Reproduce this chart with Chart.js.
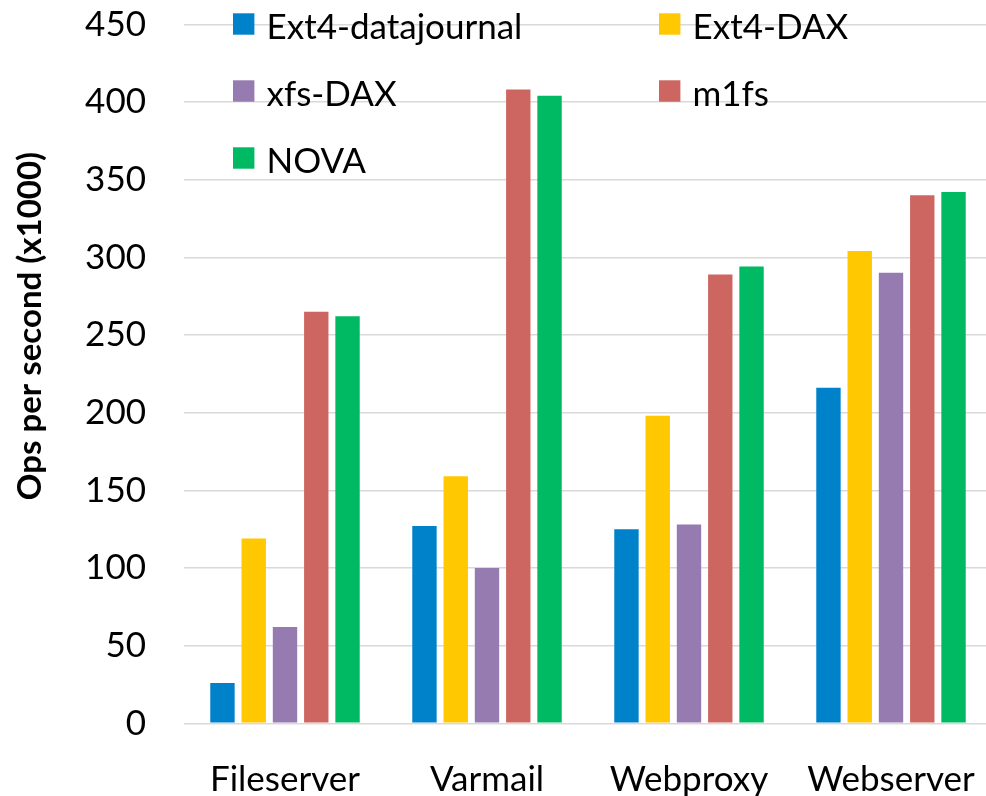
<!DOCTYPE html>
<html>
<head>
<meta charset="utf-8">
<script src="https://cdn.jsdelivr.net/npm/chart.js@4/dist/chart.umd.min.js"></script>
<style>
  html, body { margin: 0; padding: 0; background: #fff; overflow: hidden; }
  canvas { display: block; }
</style>
</head>
<body>
<canvas id="myChart" width="992" height="796"></canvas>
<script>
// data
const categories = ["Fileserver", "Varmail", "Webproxy", "Webserver"];
const seriesNames = ["Ext4-datajournal", "Ext4-DAX", "xfs-DAX", "m1fs", "NOVA"];
const ext4DataJournal = [26, 127, 125, 216];
const ext4Dax = [119, 159, 198, 304];
const xfsDax = [62, 100, 128, 290];
const m1fs = [265, 408, 289, 340];
const nova = [262, 404, 294, 342];
const yTicks = [0, 50, 100, 150, 200, 250, 300, 350, 400, 450];
const yTitle = "Ops per second (x1000)";

const colors = ["#0082CA", "#FFC800", "#967BB0", "#CD6661", "#00B963"];
const FONT = "Lato";

// legend in two columns, inside the plot
const gridLegend = {
  id: "gridLegend",
  afterDraw(chart) {
    const { ctx, chartArea: { left } } = chart;
    ctx.save();
    ctx.font = "35px " + FONT;
    ctx.textAlign = "left";
    ctx.textBaseline = "alphabetic";
    chart.data.datasets.forEach((ds, i) => {
      const col = i % 2;
      const row = Math.floor(i / 2);
      const bx = left + 49 + col * 426;
      const cy = 24 + row * 67;
      ctx.fillStyle = ds.backgroundColor;
      ctx.fillRect(bx, cy - 10.7, 21.4, 21.4);
      ctx.fillStyle = "#000";
      ctx.fillText(ds.label, bx + 33.5, cy + 15);
    });
    ctx.restore();
  },
};

// y axis title
const yTitlePlugin = {
  id: "yTitlePlugin",
  afterDraw(chart) {
    const { ctx } = chart;
    ctx.save();
    ctx.translate(41, 326);
    ctx.rotate(-Math.PI / 2);
    ctx.font = "bold 33px " + FONT;
    ctx.fillStyle = "#000";
    ctx.textAlign = "center";
    ctx.textBaseline = "alphabetic";
    ctx.fillText(yTitle, 0, 0);
    ctx.restore();
  },
};

const seriesValues = [ext4DataJournal, ext4Dax, xfsDax, m1fs, nova];

const data = {
  labels: categories,
  datasets: seriesNames.map((name, i) => ({
    label: name,
    data: seriesValues[i],
    backgroundColor: colors[i],
    borderWidth: 0,
    categoryPercentage: 0.774,
    barPercentage: 0.78,
  })),
};

const config = {
  type: "bar",
  data: data,
  plugins: [gridLegend, yTitlePlugin],
  options: {
    responsive: false,
    animation: false,
    layout: { padding: { top: 24.3, right: 0, left: 0, bottom: 0 } },
    plugins: {
      legend: { display: false },
      tooltip: { enabled: false },
    },
    scales: {
      x: {
        grid: { display: false, drawTicks: false },
        border: { display: false },
        ticks: {
          color: "#000",
          font: { family: FONT, size: 35 },
          padding: 35,
        },
        afterFit(scale) {
          scale.height = 72.7;
          scale.paddingLeft = 0;
          scale.paddingRight = 0;
        },
      },
      y: {
        min: 0,
        max: 450,
        afterBuildTicks(scale) {
          scale.ticks = yTicks.map((v) => ({ value: v }));
        },
        grid: { color: "#d9d9d9", lineWidth: 1.5, drawTicks: false },
        border: { display: false },
        ticks: {
          color: "#000",
          font: { family: FONT, size: 35 },
          padding: 38,
        },
        afterFit(scale) {
          scale.width = 184;
          scale.paddingTop = 0;
          scale.paddingBottom = 0;
        },
      },
    },
  },
};

const myChart = new Chart(document.getElementById("myChart"), config);
</script>
</body>
</html>
